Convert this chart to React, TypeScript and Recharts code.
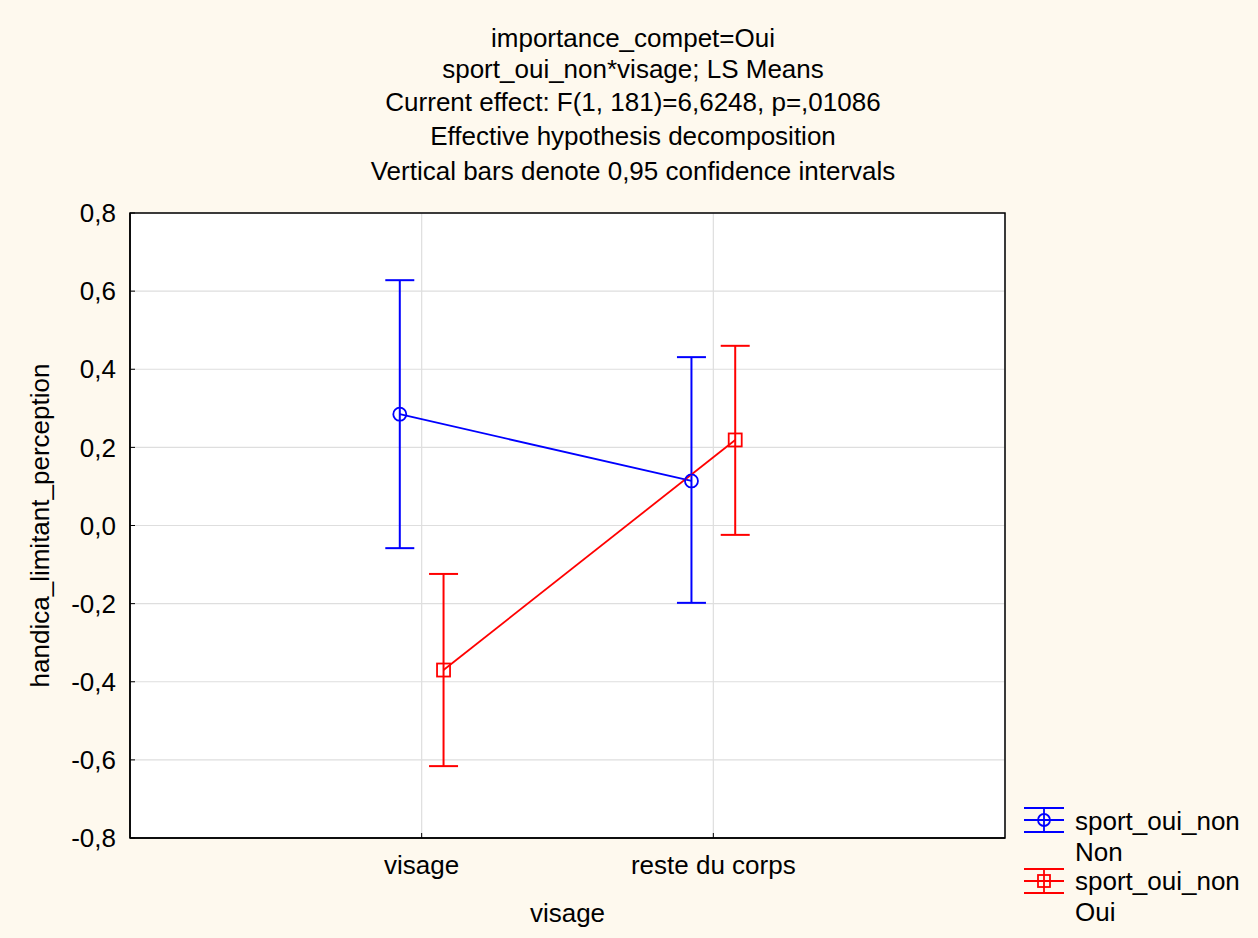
import React from "react";
import {
  ComposedChart,
  Line,
  XAxis,
  YAxis,
  CartesianGrid,
  ErrorBar,
  ReferenceArea,
} from "recharts";

const categories = ["visage", "reste du corps"];

// sport_oui_non = Non
const nonMeans = [0.285, 0.114];
const nonLower = [-0.058, -0.198];
const nonUpper = [0.628, 0.431];

// sport_oui_non = Oui
const ouiMeans = [-0.37, 0.219];
const ouiLower = [-0.616, -0.024];
const ouiUpper = [-0.124, 0.46];

const yTicks = [-0.8, -0.6, -0.4, -0.2, 0, 0.2, 0.4, 0.6, 0.8];

const titleLines = [
  "importance_compet=Oui",
  "sport_oui_non*visage; LS Means",
  "Current effect: F(1, 181)=6,6248, p=,01086",
  "Effective hypothesis decomposition",
  "Vertical bars denote 0,95 confidence intervals",
];
const titleY = [38, 69, 102, 136, 171];

const BLUE = "#0000ff";
const RED = "#ff0000";
const BG = "#fef9ee";
const FONT = "'Liberation Sans', Arial, sans-serif";
const FS = 26;

// small horizontal shift so the two groups don't overlap at a category
const SHIFT = 0.075;

const buildSeries = (means: number[], lower: number[], upper: number[], shift: number) =>
  means.map((m, i) => ({
    x: i + 1 + shift,
    y: m,
    err: [m - lower[i], upper[i] - m],
  }));

const nonData = buildSeries(nonMeans, nonLower, nonUpper, -SHIFT);
const ouiData = buildSeries(ouiMeans, ouiLower, ouiUpper, SHIFT);

const fmt = (v: number) => v.toFixed(1).replace(".", ",");

const SquareDot = (props: any) => {
  const { cx, cy, index } = props;
  return (
    <rect
      key={`sq-${index}`}
      x={cx - 6.5}
      y={cy - 6.5}
      width={13}
      height={13}
      fill="none"
      stroke={RED}
      strokeWidth={1.8}
    />
  );
};

function LegendIcon({ color, square }: { color: string; square?: boolean }) {
  return (
    <svg width={42} height={28} style={{ display: "block" }}>
      <line x1={1} y1={2} x2={41} y2={2} stroke={color} strokeWidth={1.8} />
      <line x1={1} y1={14} x2={41} y2={14} stroke={color} strokeWidth={1.8} />
      <line x1={1} y1={26} x2={41} y2={26} stroke={color} strokeWidth={1.8} />
      <line x1={21} y1={2} x2={21} y2={26} stroke={color} strokeWidth={1.8} />
      {square ? (
        <rect x={15} y={8} width={12} height={12} fill="none" stroke={color} strokeWidth={1.8} />
      ) : (
        <circle cx={21} cy={14} r={6} fill="none" stroke={color} strokeWidth={1.8} />
      )}
    </svg>
  );
}

export default function App() {
  const text = { fontFamily: FONT, fontSize: FS, color: "#000" };
  return (
    <div
      style={{
        position: "absolute",
        left: 0,
        top: 0,
        width: 1258,
        height: 938,
        background: BG,
        fontFamily: FONT,
        overflow: "hidden",
      }}
    >
      {titleLines.map((t, i) => (
        <div
          key={t}
          style={{
            ...text,
            position: "absolute",
            left: 0,
            width: 1266,
            textAlign: "center",
            top: titleY[i] - 15,
            lineHeight: "30px",
            whiteSpace: "nowrap",
          }}
        >
          {t}
        </div>
      ))}

      <ComposedChart
        width={1258}
        height={938}
        margin={{ top: 213, right: 253, bottom: 0, left: 0 }}
        style={{ position: "absolute", left: 0, top: 0 }}
      >
        <CartesianGrid fill="#ffffff" stroke="#dedede" strokeWidth={1.2} />
        <XAxis
          type="number"
          dataKey="x"
          domain={[0, 3]}
          ticks={[1, 2]}
          allowDataOverflow
          tickFormatter={(v: number) => categories[v - 1] ?? ""}
          height={100}
          tickSize={-5}
          tickMargin={23}
          axisLine={{ stroke: "#000", strokeWidth: 1.5 }}
          tickLine={{ stroke: "#000" }}
          tick={{ fill: "#000", fontSize: FS, fontFamily: FONT }}
          label={{
            value: "visage",
            position: "insideBottom",
            offset: 16,
            fill: "#000",
            fontSize: FS,
            fontFamily: FONT,
          }}
        />
        <YAxis
          type="number"
          domain={[-0.8, 0.8]}
          ticks={yTicks}
          allowDataOverflow
          tickFormatter={fmt}
          width={130}
          tickSize={-5}
          tickMargin={19}
          axisLine={{ stroke: "#000", strokeWidth: 1.5 }}
          tickLine={{ stroke: "#000" }}
          tick={{ fill: "#000", fontSize: FS, fontFamily: FONT }}
          label={{
            value: "handica_limitant_perception",
            angle: -90,
            position: "insideLeft",
            offset: 40,
            style: { textAnchor: "middle" },
            fill: "#000",
            fontSize: FS,
            fontFamily: FONT,
          }}
        />
        <ReferenceArea
          x1={0}
          x2={3}
          y1={-0.8}
          y2={0.8}
          fill="none"
          fillOpacity={0}
          stroke="#000"
          strokeWidth={1.5}
        />
        <Line
          data={nonData}
          dataKey="y"
          stroke={BLUE}
          strokeWidth={1.8}
          dot={{ r: 6.5, fill: "none", stroke: BLUE, strokeWidth: 1.8 }}
          activeDot={false}
          isAnimationActive={false}
        >
          <ErrorBar dataKey="err" direction="y" width={14.5} stroke={BLUE} strokeWidth={2} />
        </Line>
        <Line
          data={ouiData}
          dataKey="y"
          stroke={RED}
          strokeWidth={1.8}
          dot={SquareDot}
          activeDot={false}
          isAnimationActive={false}
        >
          <ErrorBar dataKey="err" direction="y" width={14.5} stroke={RED} strokeWidth={2} />
        </Line>
      </ComposedChart>

      <div style={{ position: "absolute", left: 1023, top: 806 }}>
        <LegendIcon color={BLUE} />
      </div>
      <div style={{ ...text, position: "absolute", left: 1075, top: 806, lineHeight: "31px", whiteSpace: "nowrap" }}>
        sport_oui_non
        <br />
        Non
      </div>
      <div style={{ position: "absolute", left: 1023, top: 867 }}>
        <LegendIcon color={RED} square />
      </div>
      <div style={{ ...text, position: "absolute", left: 1075, top: 866, lineHeight: "31px", whiteSpace: "nowrap" }}>
        sport_oui_non
        <br />
        Oui
      </div>
    </div>
  );
}
